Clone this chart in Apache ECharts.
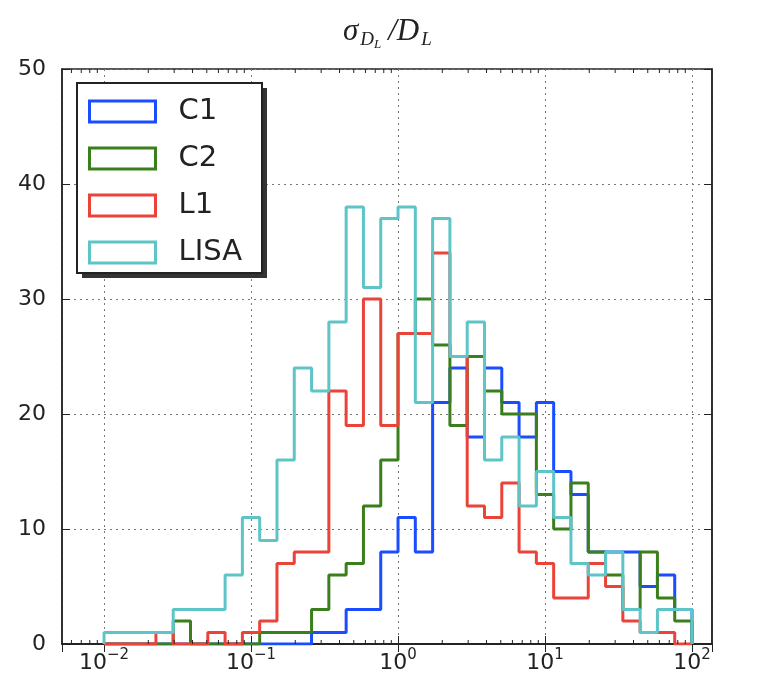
<!DOCTYPE html>
<html>
<head>
<meta charset="utf-8">
<script src="https://cdn.jsdelivr.net/npm/echarts@6/dist/echarts.min.js"></script>
<style>
html, body { margin: 0; padding: 0; background: #fff; }
#chart { width: 764px; height: 689px; }
</style>
</head>
<body>
<div id="chart"></div>
<script>
// histogram bins: 34 bins evenly spaced in log10 from 10^-2 to 10^2
var LOG_MIN = -2, LOG_MAX = 2, BIN_COUNT = 34;

var names = ['C1', 'C2', 'L1', 'LISA'];
var colors = ['#1a4dff', '#3b7f1c', '#ec4338', '#5dc4c8'];

// counts per bin
var c1   = [0,0,0,0,0,0,0,0,0,0,0,0,1,1,3,3,8,11,8,21,24,18,24,21,18,21,15,13,8,8,8,5,6,3];
var c2   = [0,0,0,0,2,0,0,0,0,1,1,1,3,6,7,12,16,27,30,26,19,25,22,20,20,13,10,14,8,6,3,8,4,2];
var l1   = [0,0,0,1,0,0,1,0,1,2,7,8,8,22,19,30,19,27,27,34,25,12,11,14,8,7,4,4,7,5,2,1,1,0];
var lisa = [1,1,1,1,3,3,3,6,11,9,16,24,22,28,38,31,37,38,21,37,25,28,16,18,12,15,11,7,6,8,3,1,3,3];

var yTicks = [0, 10, 20, 30, 40, 50];

var X_MIN = Math.pow(10, -2.286), X_MAX = Math.pow(10, 2.136);

function edge(k) {
	return Math.pow(10, LOG_MIN + (LOG_MAX - LOG_MIN) * k / BIN_COUNT);
}

function stepPoints(counts) {
	var pts = [[edge(0), 0]];
	for (var k = 0; k < counts.length; k++) {
		pts.push([edge(k), counts[k]]);
		pts.push([edge(k + 1), counts[k]]);
	}
	pts.push([edge(counts.length), 0]);
	return pts;
}

// minor tick positions (2..9 x 10^n) for the log axis
var minorTicks = [];
for (var d = -3; d <= 2; d++) {
	for (var m = 2; m <= 9; m++) {
		var v = m * Math.pow(10, d);
		if (v > X_MIN && v < X_MAX) minorTicks.push([v]);
	}
}

var allData = [c1, c2, l1, lisa];
var series = [];
for (var i = 0; i < names.length; i++) {
	series.push({
		name: names[i],
		type: 'line',
		data: stepPoints(allData[i]),
		symbol: 'none',
		lineStyle: { color: colors[i], width: 3 },
		itemStyle: { color: colors[i] },
		z: 2 + i
	});
}
series.push({
	type: 'custom',
	data: minorTicks,
	silent: true,
	z: 10,
	renderItem: function (params, api) {
		var bottom = api.coord([api.value(0), 0]);
		var top = api.coord([api.value(0), 50]);
		var st = { stroke: '#222', lineWidth: 1 };
		return {
			type: 'group',
			children: [
				{ type: 'line', shape: { x1: bottom[0], y1: bottom[1], x2: bottom[0], y2: bottom[1] - 4 }, style: st },
				{ type: 'line', shape: { x1: top[0], y1: top[1], x2: top[0], y2: top[1] + 4 }, style: st }
			]
		};
	}
});

var myChart = echarts.init(document.getElementById('chart'));

var gridLine = { show: true, lineStyle: { color: '#777', type: [2, 4], width: 1 } };
var serif = { fontFamily: 'Liberation Serif', fontStyle: 'italic', fontWeight: 'normal', color: '#222', verticalAlign: 'top' };

myChart.setOption({
	animation: false,
	backgroundColor: '#fff',
	title: {
		text: '{a|\u03c3}{b|D}{c|L}{a|/D}{b|L}',
		left: 338,
		top: 11,
		textStyle: {
			fontWeight: 'normal',
			rich: {
				a: echarts.util.extend({ fontSize: 31, lineHeight: 31 }, serif),
				b: echarts.util.extend({ fontSize: 19, lineHeight: 19, padding: [14, 0, 0, 2] }, serif),
				c: echarts.util.extend({ fontSize: 13, lineHeight: 13, padding: [22, 7, 0, 0] }, serif)
			}
		}
	},
	// shadow behind the legend box
	graphic: [{
		type: 'rect',
		z: 18,
		silent: true,
		shape: { x: 82, y: 88, width: 185, height: 190 },
		style: { fill: '#333' }
	}],
	legend: {
		orient: 'vertical',
		left: 77,
		top: 83,
		z: 20,
		padding: [14, 20, 6, 11],
		itemWidth: 66,
		itemHeight: 21,
		itemGap: 18,
		backgroundColor: '#fff',
		borderColor: '#222',
		borderWidth: 2,
		textStyle: { fontFamily: 'DejaVu Sans', fontSize: 29, color: '#222', padding: [0, 0, 0, 18] },
		data: names.map(function (n, i) {
			return {
				name: n,
				icon: 'rect',
				itemStyle: { color: 'rgba(255,255,255,0)', borderColor: colors[i], borderWidth: 3 }
			};
		})
	},
	grid: { left: 62, right: 52, top: 69, bottom: 45, show: true, borderColor: '#222', borderWidth: 1.5 },
	xAxis: [
		{
			type: 'log',
			logBase: 10,
			min: X_MIN,
			max: X_MAX,
			position: 'bottom',
			axisLine: { show: true, lineStyle: { color: '#222', width: 1.5 } },
			axisTick: { show: true, inside: true, length: 8, lineStyle: { color: '#222' } },
			splitLine: gridLine,
			axisLabel: {
				margin: 8,
				showMinLabel: false,
				showMaxLabel: false,
				formatter: function (v) {
					var lg = Math.log10(v);
					var e = Math.round(lg);
					if (Math.abs(lg - e) > 1e-6) return '';
					return '{m|10}{s|' + (e < 0 ? '\u2212' : '') + Math.abs(e) + '}';
				},
				rich: {
					m: { fontFamily: 'DejaVu Sans', fontSize: 22, color: '#222', verticalAlign: 'bottom', lineHeight: 22 },
					s: { fontFamily: 'DejaVu Sans', fontSize: 15, color: '#222', verticalAlign: 'bottom', lineHeight: 15, padding: [0, 0, 11, 0] }
				}
			}
		},
		{
			type: 'log',
			logBase: 10,
			min: X_MIN,
			max: X_MAX,
			position: 'top',
			axisLine: { show: true, lineStyle: { color: '#222', width: 1.5 } },
			axisTick: { show: true, inside: true, length: 8, lineStyle: { color: '#222' } },
			splitLine: { show: false },
			axisLabel: { show: false }
		}
	],
	yAxis: [
		{
			type: 'value',
			min: 0,
			max: 50,
			interval: 10,
			axisLine: { show: true, lineStyle: { color: '#222', width: 1.5 } },
			axisTick: { show: true, inside: true, length: 8, lineStyle: { color: '#222' } },
			splitLine: gridLine,
			axisLabel: {
				margin: 16,
				fontFamily: 'DejaVu Sans',
				fontSize: 22,
				color: '#222',
				formatter: function (v) { return yTicks.indexOf(v) >= 0 ? String(v) : ''; }
			}
		},
		{
			type: 'value',
			min: 0,
			max: 50,
			interval: 10,
			position: 'right',
			axisLine: { show: true, lineStyle: { color: '#222', width: 1.5 } },
			axisTick: { show: true, inside: true, length: 8, lineStyle: { color: '#222' } },
			splitLine: { show: false },
			axisLabel: { show: false }
		}
	],
	series: series
});
</script>
</body>
</html>
